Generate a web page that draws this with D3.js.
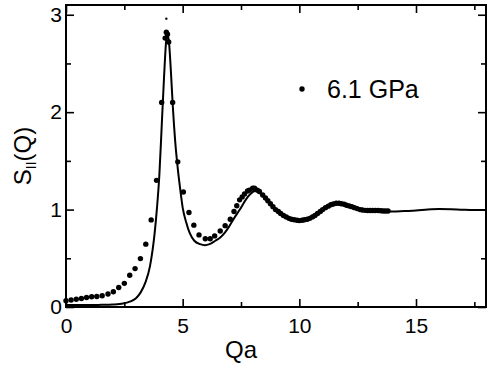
<!DOCTYPE html>
<meta charset="utf-8">
<script src="https://d3js.org/d3.v7.min.js"></script>
<style>
  body { margin: 0; background: #fff; }
  text { font-family: "Liberation Sans", Arial, sans-serif; fill: #000; }
</style>
<div id="chart"></div>
<script>
  // measured points (dots)
  const dotQ = [0.0, 0.22, 0.44, 0.66, 0.88, 1.1, 1.32, 1.55, 1.8, 2.03, 2.26, 2.5, 2.73, 2.96, 3.19, 3.42, 3.65, 3.88,
    4.1, 4.25, 4.3, 4.35, 4.4, 4.57, 4.79, 5.03, 5.27, 5.48, 5.7, 5.97, 6.18, 6.37, 6.61, 6.82, 7.04, 7.2, 7.32, 7.44, 7.55, 7.65,
    7.78, 7.86, 8.0, 8.08, 8.2, 8.29, 8.43, 8.55, 8.65, 8.76, 8.87, 8.98, 9.1, 9.2, 9.32, 9.44, 9.55, 9.66, 9.78, 9.9, 10.0,
    10.12, 10.22, 10.34, 10.45, 10.56, 10.67, 10.78, 10.9, 11.0, 11.12, 11.24, 11.35, 11.46, 11.58, 11.7, 11.8, 11.92,
    12.02, 12.14, 12.25, 12.36, 12.48, 12.6, 12.7, 12.82, 12.93, 13.04, 13.15, 13.26, 13.38, 13.5, 13.6, 13.7, 13.8];
  const dotS = [0.065, 0.072, 0.079, 0.088, 0.098, 0.105, 0.108, 0.116, 0.133, 0.157, 0.2, 0.243, 0.326, 0.394, 0.497, 0.645, 0.894, 1.3,
    2.1, 2.76, 2.82, 2.8, 2.72, 2.1, 1.49, 1.18, 0.97, 0.84, 0.74, 0.70, 0.70, 0.73, 0.78, 0.835, 0.9, 0.98, 1.04, 1.1, 1.13, 1.16,
    1.19, 1.2, 1.22, 1.22, 1.2, 1.185, 1.15, 1.12, 1.09, 1.06, 1.03, 1.0, 0.98, 0.96, 0.94, 0.925, 0.91, 0.9, 0.895, 0.89, 0.887,
    0.89, 0.895, 0.9, 0.91, 0.925, 0.94, 0.96, 0.98, 1.0, 1.02, 1.035, 1.05, 1.058, 1.065, 1.065, 1.06, 1.055,
    1.045, 1.037, 1.03, 1.02, 1.01, 1.0, 0.995, 0.992, 0.99, 0.99, 0.99, 0.99, 0.99, 0.988, 0.985, 0.985, 0.985];

  // stray small point above the peak
  const strayQ = [4.3];
  const strayS = [2.96];

  // theory curve (solid line)
  const lineQ = [0, 0.5, 1.0, 1.5, 2.0, 2.3, 2.6, 2.8, 3.0, 3.2, 3.4, 3.6, 3.8, 3.9, 4.0, 4.1, 4.2, 4.3, 4.35, 4.42, 4.5, 4.58,
    4.68, 4.8, 4.9, 5.0, 5.15, 5.3, 5.5, 5.75, 5.95, 6.15, 6.4, 6.6, 6.8, 7.0, 7.2, 7.45, 7.7, 7.9, 8.1, 8.3, 8.5, 8.75,
    9.0, 9.25, 9.5, 9.75, 10.0, 10.25, 10.5, 10.75, 11.0, 11.25, 11.5, 11.75, 12.0, 12.25, 12.5, 12.75, 13.0, 13.5, 14.0,
    14.5, 15.0, 15.5, 16.0, 16.5, 17.0, 17.5, 18.0];
  const lineS = [0.02, 0.02, 0.02, 0.022, 0.025, 0.03, 0.045, 0.06, 0.09, 0.15, 0.25, 0.42, 0.76, 1.02, 1.35, 1.85, 2.35, 2.75, 2.8, 2.7, 2.4, 2.05,
    1.7, 1.4, 1.2, 1.02, 0.87, 0.76, 0.68, 0.645, 0.635, 0.645, 0.68, 0.71, 0.76, 0.83, 0.91, 1.0, 1.1, 1.16, 1.19, 1.17, 1.12, 1.06,
    0.99, 0.94, 0.91, 0.895, 0.89, 0.9, 0.925, 0.96, 1.0, 1.035, 1.055, 1.06, 1.05, 1.03, 1.01, 0.995, 0.985, 0.98, 0.98,
    0.985, 0.99, 1.0, 1.005, 1.003, 0.998, 0.995, 0.995];

  const xMajor = [0, 5, 10, 15];
  const xMinor = [2.5, 7.5, 12.5, 17.5];
  const yMajor = [0, 1, 2, 3];
  const yMinor = [0.5, 1.5, 2.5];
  const legendLabel = "6.1 GPa";

  const W = 487, H = 366;
  const margin = {top: 5, right: 1, bottom: 59, left: 66};
  const width = W - margin.left - margin.right,
        height = H - margin.top - margin.bottom;

  const svg = d3.select("#chart").append("svg")
      .attr("width", W)
      .attr("height", H);

  const g = svg.append("g")
      .attr("transform", `translate(${margin.left},${margin.top})`);

  const x = d3.scaleLinear().domain([0, 18]).range([0, width]);
  const y = d3.scaleLinear().domain([0, 3.1]).range([height, 0]);

  // axes with inward ticks
  const styleAxis = (sel, fs) => {
    sel.select(".domain").remove();
    sel.selectAll(".tick line").attr("stroke", "#000").attr("stroke-width", 1.6);
    sel.selectAll("text").style("font-size", fs + "px");
  };

  g.append("g").attr("transform", `translate(0,${height})`)
    .call(d3.axisBottom(x).tickValues(xMajor).tickSize(-8).tickPadding(11).tickFormat(d3.format("d")))
    .call(s => styleAxis(s, 21));
  g.append("g").attr("transform", `translate(0,${height})`)
    .call(d3.axisBottom(x).tickValues(xMinor).tickSize(-5).tickFormat(""))
    .call(s => styleAxis(s, 21));
  g.append("g")
    .call(d3.axisTop(x).tickValues(xMajor).tickSize(-8).tickFormat(""))
    .call(s => styleAxis(s, 21));
  g.append("g")
    .call(d3.axisTop(x).tickValues(xMinor).tickSize(-5).tickFormat(""))
    .call(s => styleAxis(s, 21));

  g.append("g")
    .call(d3.axisLeft(y).tickValues(yMajor).tickSize(-8).tickPadding(4).tickFormat(d3.format("d")))
    .call(s => styleAxis(s, 21));
  g.append("g")
    .call(d3.axisLeft(y).tickValues(yMinor).tickSize(-5).tickFormat(""))
    .call(s => styleAxis(s, 21));
  g.append("g").attr("transform", `translate(${width},0)`)
    .call(d3.axisRight(y).tickValues(yMajor).tickSize(-8).tickFormat(""))
    .call(s => styleAxis(s, 21));
  g.append("g").attr("transform", `translate(${width},0)`)
    .call(d3.axisRight(y).tickValues(yMinor).tickSize(-5).tickFormat(""))
    .call(s => styleAxis(s, 21));

  // frame
  g.append("rect")
    .attr("x", 0).attr("y", 0)
    .attr("width", width).attr("height", height)
    .attr("fill", "none")
    .attr("stroke", "#000")
    .attr("stroke-width", 2);

  // theory line
  const lineData = lineQ.map((q, i) => [q, lineS[i]]);
  g.append("path")
    .datum(lineData)
    .attr("fill", "none")
    .attr("stroke", "#000")
    .attr("stroke-width", 2)
    .attr("d", d3.line().x(d => x(d[0])).y(d => y(d[1])).curve(d3.curveMonotoneX));

  // data points
  const dotData = dotQ.map((q, i) => [q, dotS[i]]);
  g.selectAll(".dot")
    .data(dotData)
    .join("circle")
      .attr("class", "dot")
      .attr("cx", d => x(d[0]))
      .attr("cy", d => y(d[1]))
      .attr("r", 2.7)
      .attr("fill", "#000");

  g.selectAll(".stray")
    .data(strayQ.map((q, i) => [q, strayS[i]]))
    .join("circle")
      .attr("class", "stray")
      .attr("cx", d => x(d[0]))
      .attr("cy", d => y(d[1]))
      .attr("r", 1.2)
      .attr("fill", "#000");

  // legend
  g.append("circle")
    .attr("cx", 302 - margin.left).attr("cy", 89 - margin.top)
    .attr("r", 2.7).attr("fill", "#000");
  g.append("text")
    .attr("x", 327 - margin.left).attr("y", 98 - margin.top)
    .style("font-size", "25px")
    .text(legendLabel);

  // axis titles
  svg.append("text")
    .attr("x", margin.left + x(7.5))
    .attr("y", 358)
    .attr("text-anchor", "middle")
    .style("font-size", "24px")
    .text("Qa");

  const yt = svg.append("text")
    .attr("transform", "translate(31,156) rotate(-90)")
    .attr("text-anchor", "middle")
    .style("font-size", "24px");
  yt.append("tspan").text("S");
  yt.append("tspan").attr("dy", 5).style("font-size", "14px").text("II");
  yt.append("tspan").attr("dy", -5).text("(Q)");
</script>
